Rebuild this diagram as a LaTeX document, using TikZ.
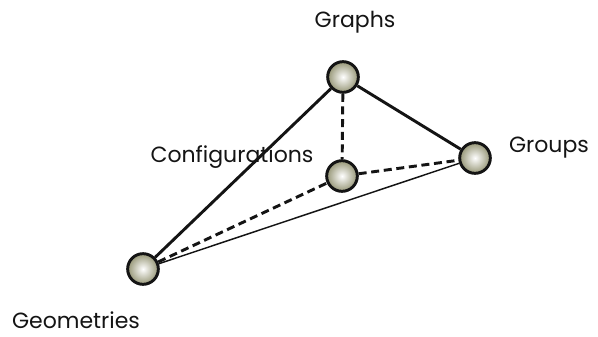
\documentclass[tikz,border=0pt]{standalone}
\usepackage{fontspec}
\setmainfont{Poppins}
\usepackage{xcolor}
\definecolor{ballcolor}{RGB}{150,150,118}
\definecolor{edgecolor}{RGB}{20,20,20}

\begin{document}
\begin{tikzpicture}[
    x=0.75pt, y=-0.75pt,
    vertex/.style={circle, draw=edgecolor, line width=2.2pt, minimum size=23pt, inner sep=0pt,
        inner color=white, outer color=ballcolor},
    lbl/.style={font=\fontsize{16.5}{20}\selectfont, text=edgecolor, inner sep=1pt},
    edge/.style={edgecolor, line width=2.2pt},
    thinedge/.style={edgecolor, line width=1.1pt},
    dashedge/.style={edgecolor, line width=2.2pt, dash pattern=on 6pt off 3.5pt}
]

% Canvas
\useasboundingbox (0,0) rectangle (598,336);

% Labels
\node[lbl] (tGraphs) at (355,22) {Graphs};
\node[lbl] (tGroups) at (549,148) {Groups};
\node[lbl] (tConfig) at (232,157) {Configurations};
\node[lbl] (tGeom) at (76,320) {Geometries};

% Vertices
\node[vertex] (graphs) at (343,77) {};
\node[vertex] (groups) at (475,158) {};
\node[vertex] (config) at (342,176) {};
\node[vertex] (geom) at (143,269) {};

% Outer triangle
\draw[edge] (graphs) -- (geom);
\draw[edge] (graphs) -- (groups);
\draw[thinedge] (geom) -- (groups);

% Dashed edges to Configurations
\draw[dashedge] (graphs) -- (config);
\draw[dashedge] (config) -- (groups);
\draw[dashedge] (geom) -- (config);

\end{tikzpicture}
\end{document}
